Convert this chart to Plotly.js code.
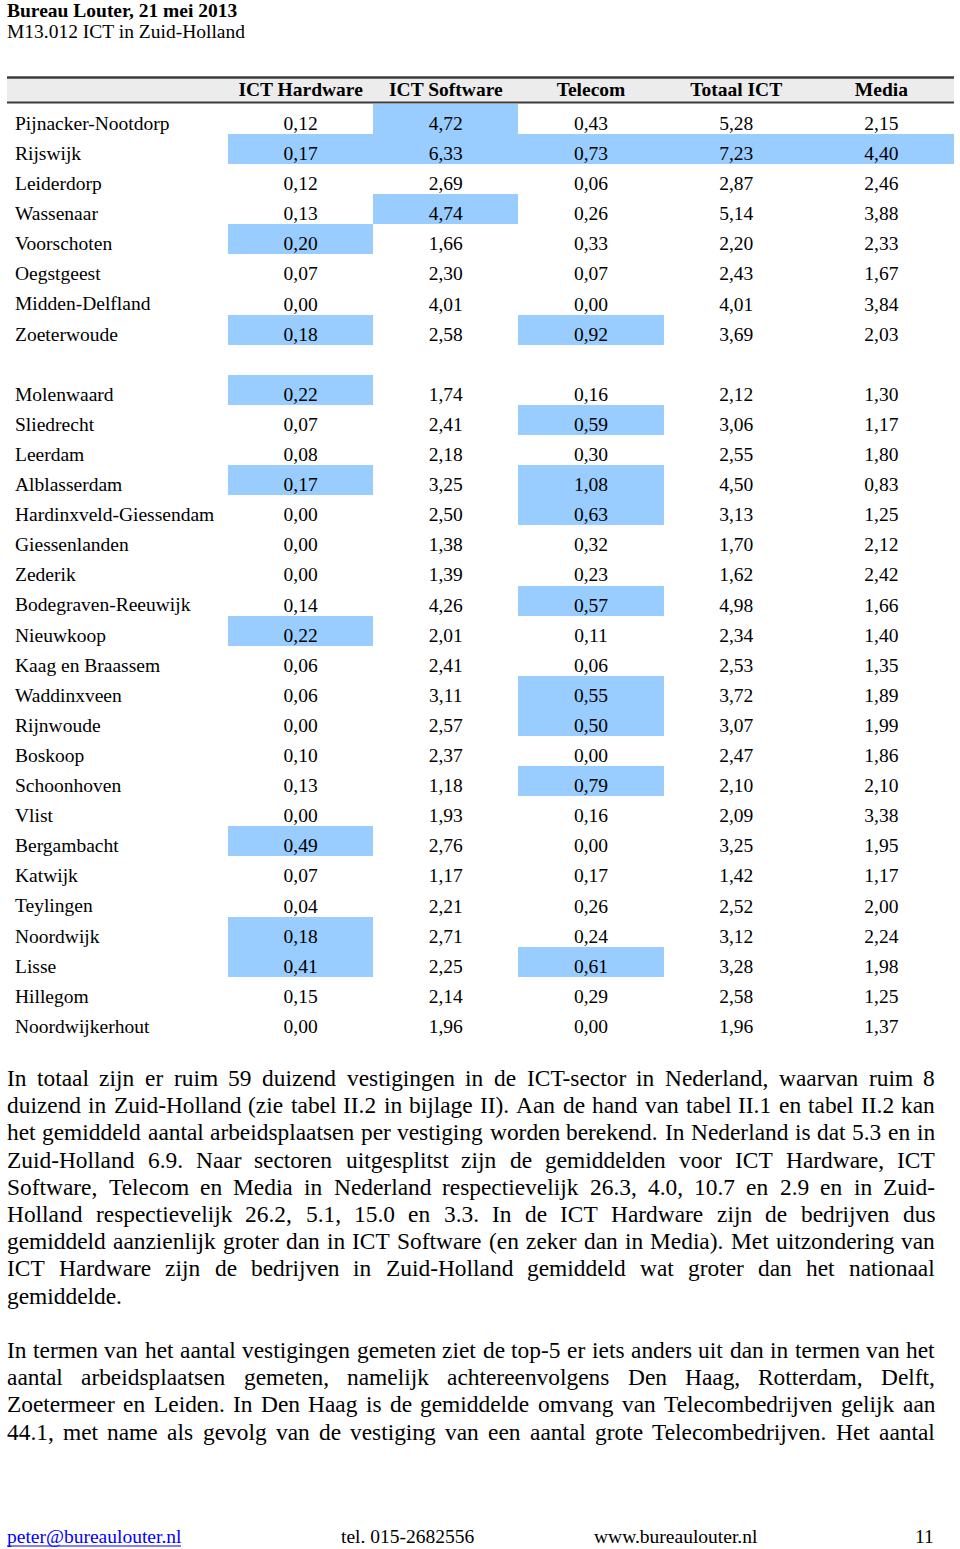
<!DOCTYPE html>
<html><head><meta charset="utf-8">
<script src="https://cdn.plot.ly/plotly-3.0.1.min.js"></script>
<style>html,body{margin:0;padding:0;background:#fff}#chart{width:960px;height:1549px}</style>
</head><body><div id="chart"></div>
<script>
// ---------- DATA ----------
const municipalities = [
  'Pijnacker-Nootdorp','Rijswijk','Leiderdorp','Wassenaar','Voorschoten','Oegstgeest','Midden-Delfland','Zoeterwoude',
  '',
  'Molenwaard','Sliedrecht','Leerdam','Alblasserdam','Hardinxveld-Giessendam','Giessenlanden','Zederik',
  'Bodegraven-Reeuwijk','Nieuwkoop','Kaag en Braassem','Waddinxveen','Rijnwoude','Boskoop','Schoonhoven','Vlist',
  'Bergambacht','Katwijk','Teylingen','Noordwijk','Lisse','Hillegom','Noordwijkerhout'
];
const ictHardware = [0.12,0.17,0.12,0.13,0.20,0.07,0.00,0.18, null,
  0.22,0.07,0.08,0.17,0.00,0.00,0.00,0.14,0.22,0.06,0.06,0.00,0.10,0.13,0.00,0.49,0.07,0.04,0.18,0.41,0.15,0.00];
const ictSoftware = [4.72,6.33,2.69,4.74,1.66,2.30,4.01,2.58, null,
  1.74,2.41,2.18,3.25,2.50,1.38,1.39,4.26,2.01,2.41,3.11,2.57,2.37,1.18,1.93,2.76,1.17,2.21,2.71,2.25,2.14,1.96];
const telecom = [0.43,0.73,0.06,0.26,0.33,0.07,0.00,0.92, null,
  0.16,0.59,0.30,1.08,0.63,0.32,0.23,0.57,0.11,0.06,0.55,0.50,0.00,0.79,0.16,0.00,0.17,0.26,0.24,0.61,0.29,0.00];
const totaalICT = [5.28,7.23,2.87,5.14,2.20,2.43,4.01,3.69, null,
  2.12,3.06,2.55,4.50,3.13,1.70,1.62,4.98,2.34,2.53,3.72,3.07,2.47,2.10,2.09,3.25,1.42,2.52,3.12,3.28,2.58,1.96];
const media = [2.15,4.40,2.46,3.88,2.33,1.67,3.84,2.03, null,
  1.30,1.17,1.80,0.83,1.25,2.12,2.42,1.66,1.40,1.35,1.89,1.99,1.86,2.10,3.38,1.95,1.17,2.00,2.24,1.98,1.25,1.37];
const columnLabels = ['ICT Hardware','ICT Software','Telecom','Totaal ICT','Media'];
// cells shaded blue in the reference (value above these limits)
const highlightAbove = [0.16, 4.5, 0.45, 6.0, 4.0];

const headerTitle = 'Bureau Louter, 21 mei 2013';
const headerSubtitle = 'M13.012 ICT in Zuid-Holland';
const paragraph1 = [
  'In totaal zijn er ruim 59 duizend vestigingen in de ICT-sector in Nederland, waarvan ruim 8',
  'duizend in Zuid-Holland (zie tabel II.2 in bijlage II). Aan de hand van tabel II.1 en tabel II.2 kan',
  'het gemiddeld aantal arbeidsplaatsen per vestiging worden berekend. In Nederland is dat 5.3 en in',
  'Zuid-Holland 6.9. Naar sectoren uitgesplitst zijn de gemiddelden voor ICT Hardware, ICT',
  'Software, Telecom en Media in Nederland respectievelijk 26.3, 4.0, 10.7 en 2.9 en in Zuid-',
  'Holland respectievelijk 26.2, 5.1, 15.0 en 3.3. In de ICT Hardware zijn de bedrijven dus',
  'gemiddeld aanzienlijk groter dan in ICT Software (en zeker dan in Media). Met uitzondering van',
  'ICT Hardware zijn de bedrijven in Zuid-Holland gemiddeld wat groter dan het nationaal',
  'gemiddelde.'
];
const paragraph2 = [
  'In termen van het aantal vestigingen gemeten ziet de top-5 er iets anders uit dan in termen van het',
  'aantal arbeidsplaatsen gemeten, namelijk achtereenvolgens Den Haag, Rotterdam, Delft,',
  'Zoetermeer en Leiden. In Den Haag is de gemiddelde omvang van Telecombedrijven gelijk aan',
  '44.1, met name als gevolg van de vestiging van een aantal grote Telecombedrijven. Het aantal'
];
const footerEmail = 'peter@bureaulouter.nl';
const footerTel = 'tel. 015-2682556';
const footerWeb = 'www.bureaulouter.nl';
const pageNumber = '11';

// ---------- BUILD ----------
const W = 960, H = 1549;
const px = p => p / W;
const py = p => 1 - p / H;
const FONT = '"Liberation Serif", "Times New Roman", serif';

const series = [ictHardware, ictSoftware, telecom, totaalICT, media];
const rowIdx = municipalities.map((_, i) => i);
const fmt = v => v === null ? '' : v.toFixed(2).replace('.', ',');
const z = rowIdx.map(r => series.map((s, c) => s[r] === null ? null : (s[r] > highlightAbove[c] ? 1 : 0)));

const tableTop = 104, rowH = 30.1, textDrop = 6;
const tableBottom = tableTop + rowH * municipalities.length;

const heat = {
  type: 'heatmap', x: columnLabels, y: rowIdx, z: z,
  colorscale: [[0, '#ffffff'], [1, '#99ccff']], zmin: 0, zmax: 1, showscale: false,
  hoverinfo: 'skip', xgap: 0, ygap: 0
};

const tx = [], ty = [], tt = [];
rowIdx.forEach(r => series.forEach((s, c) => {
  if (s[r] !== null) { tx.push(columnLabels[c]); ty.push(r); tt.push(fmt(s[r])); }
}));
const values = {
  type: 'scatter', mode: 'text', x: tx, y: ty, text: tt, yaxis: 'y2',
  textposition: 'middle center', textfont: {family: FONT, size: 19.5, color: '#000'},
  hoverinfo: 'skip', cliponaxis: false
};

const annotations = [];
function ann(text, xPx, yPx, size, opts) {
  annotations.push(Object.assign({
    text: text, x: px(xPx), y: py(yPx), xref: 'paper', yref: 'paper',
    xanchor: 'left', yanchor: 'middle', showarrow: false, borderpad: 0,
    font: {family: FONT, size: size, color: '#000'}
  }, opts || {}));
}
ann('<b>' + headerTitle + '</b>', 6, 10, 19.5);
ann(headerSubtitle, 6, 31, 19.5);

const BODY = 23.4;
const ctx = document.createElement('canvas').getContext('2d');
ctx.font = BODY + 'px "Liberation Serif"';
function bodyLine(line, yPx, justify) {
  const left = 7, right = 935;
  if (!justify) { ann(line, left - 1, yPx, BODY); return; }
  const words = line.split(' ');
  const widths = words.map(w => ctx.measureText(w).width);
  const total = widths.reduce((a, b) => a + b, 0);
  const gap = (right - left - total) / (words.length - 1);
  let x = left;
  words.forEach((w, i) => { ann(w, x - 1, yPx, BODY); x += widths[i] + gap; });
}
const lineH = 27.2;
paragraph1.forEach((l, i) => bodyLine(l, 1078 + i * lineH, i < paragraph1.length - 1));
paragraph2.forEach((l, i) => bodyLine(l, 1350 + i * lineH, true));

ann(footerEmail, 6, 1536, 19.5, {font: {family: FONT, size: 19.5, color: '#0000ff'}});
ann(footerTel, 340, 1536, 19.5);
ann(footerWeb, 593, 1536, 19.5);
ann(pageNumber, 935, 1536, 19.5, {xanchor: 'right'});

const shapes = [
  {type: 'rect', xref: 'paper', yref: 'paper', x0: px(7), x1: px(954), y0: py(77), y1: py(103),
   fillcolor: '#ececec', line: {width: 0}, layer: 'below'},
  {type: 'line', xref: 'paper', yref: 'paper', x0: px(7), x1: px(954), y0: py(77.5), y1: py(77.5),
   line: {color: '#3c3c3c', width: 2.5}},
  {type: 'line', xref: 'paper', yref: 'paper', x0: px(7), x1: px(954), y0: py(102.5), y1: py(102.5),
   line: {color: '#3c3c3c', width: 2}},
  {type: 'line', xref: 'paper', yref: 'paper', x0: px(7), x1: px(181), y0: py(1546), y1: py(1546),
   line: {color: '#0000ff', width: 1}}
];

const hiddenY = {showgrid: false, zeroline: false, showline: false, ticks: '', fixedrange: true};
const rowRange = [municipalities.length - 0.5, -0.5];
const layout = {
  width: W, height: H, margin: {l: 0, r: 0, t: 0, b: 0},
  paper_bgcolor: '#fff', plot_bgcolor: 'rgba(0,0,0,0)', showlegend: false,
  font: {family: FONT, color: '#000'},
  xaxis: {domain: [px(228), px(954)], side: 'top', range: [-0.5, 4.5], type: 'category',
    showgrid: false, zeroline: false, showline: false, ticks: '', fixedrange: true,
    tickfont: {family: FONT, size: 19.5, color: '#000', weight: 'bold'}, ticklabelstandoff: 3},
  yaxis: Object.assign({domain: [py(tableBottom), py(tableTop)], range: rowRange,
    showticklabels: false}, hiddenY),
  yaxis2: Object.assign({domain: [py(tableBottom + textDrop), py(tableTop + textDrop)],
    range: rowRange, anchor: 'free', position: px(11), side: 'left',
    ticklabelposition: 'inside', tickvals: rowIdx, ticktext: municipalities, ticklabelshift: 2,
    tickfont: {family: FONT, size: 19.5, color: '#000'}}, hiddenY),
  shapes: shapes, annotations: annotations
};
Plotly.newPlot('chart', [heat, values], layout, {staticPlot: true, displayModeBar: false});
</script></body></html>
